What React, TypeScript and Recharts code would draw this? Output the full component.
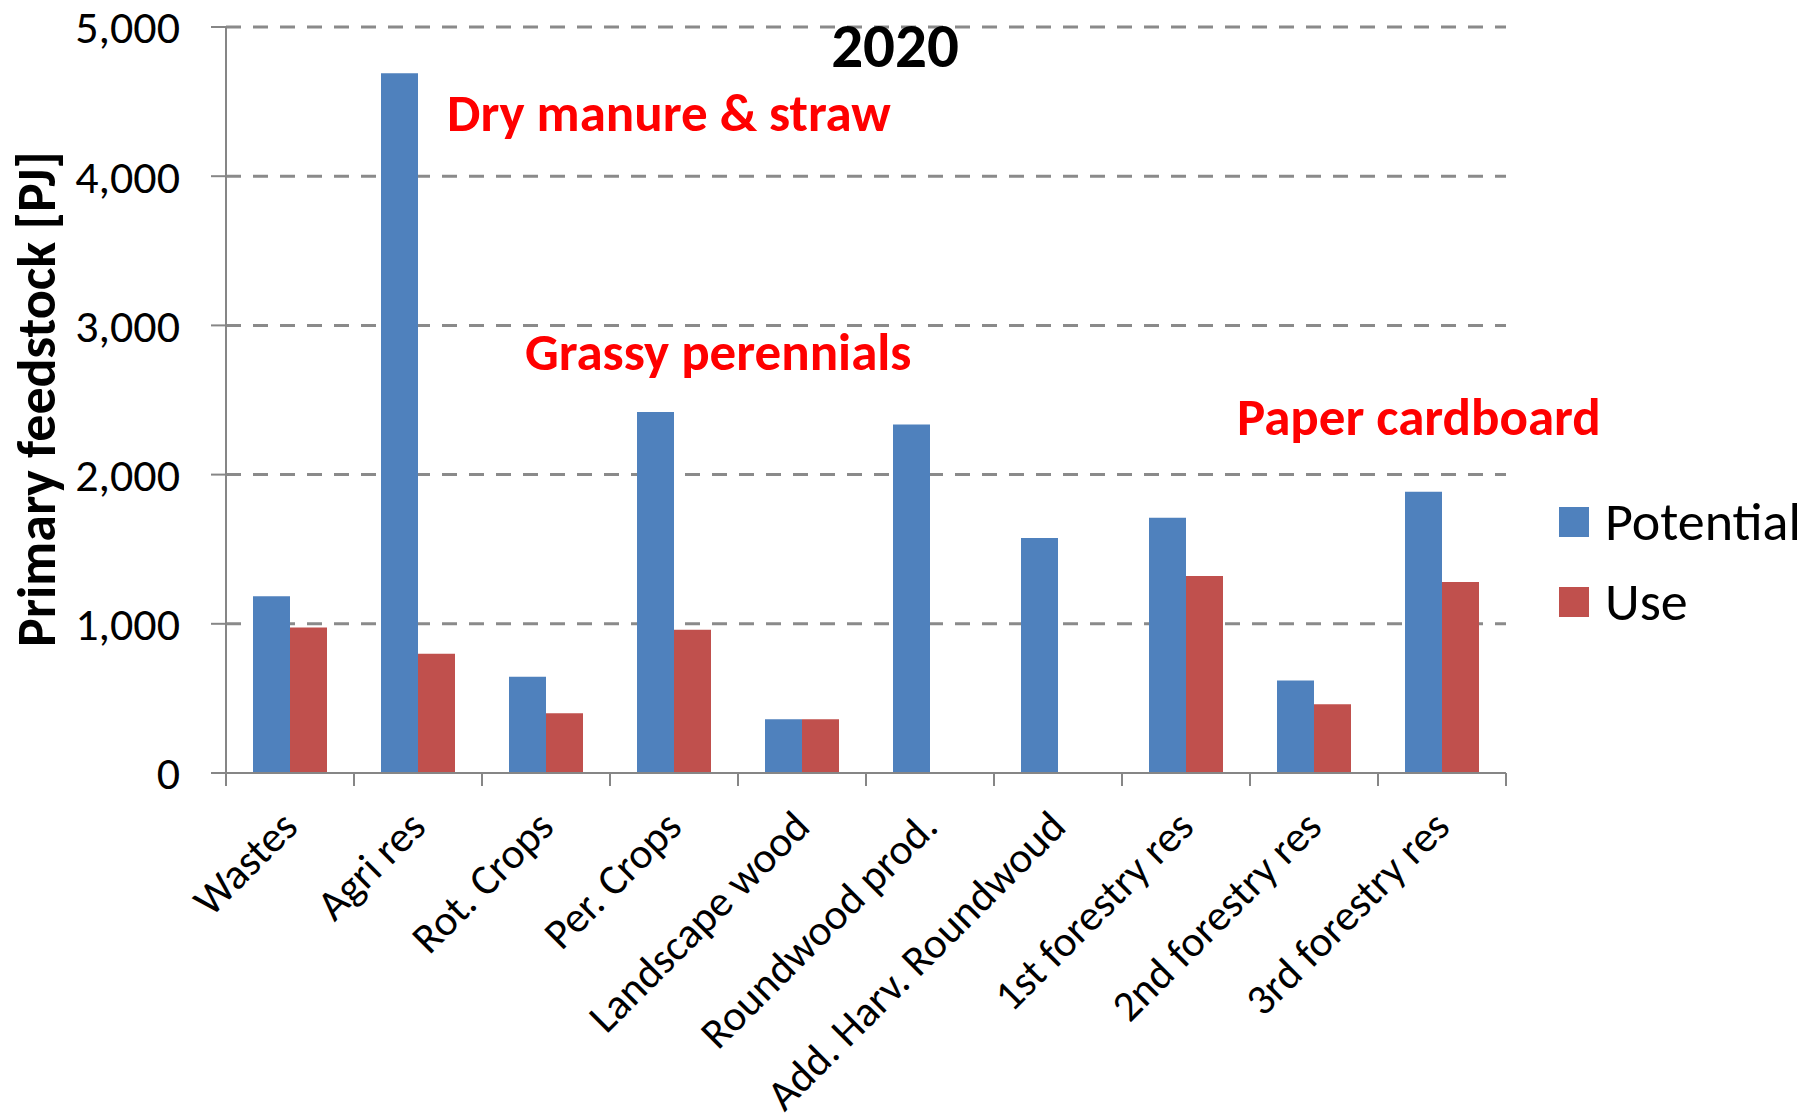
import React from 'react';
import { BarChart, Bar, XAxis, YAxis, CartesianGrid } from 'recharts';

// values (PJ)
const categories = [
  'Wastes', 'Agri res', 'Rot. Crops', 'Per. Crops', 'Landscape wood',
  'Roundwood prod.', 'Add. Harv. Roundwoud', '1st forestry res', '2nd forestry res', '3rd forestry res',
];
const potential = [1185, 4690, 645, 2420, 360, 2335, 1575, 1710, 620, 1885];
const use = [975, 800, 400, 960, 360, 0, 0, 1320, 460, 1280];
const yTicks = [0, 1000, 2000, 3000, 4000, 5000];
const edgeTicks = [0, 1, 2, 3, 4, 5, 6, 7, 8, 9, 10];
const series = [
  { key: 'potential', label: 'Potential', color: '#4F81BD' },
  { key: 'use', label: 'Use', color: '#C0504D' },
];

// slot = middle of each category on a 0..10 scale, used by the boundary-tick axis
const data = categories.map((name, i) => ({ name, slot: i + 0.5, potential: potential[i], use: use[i] }));

const FONT = 'Carlito, Lato, sans-serif';
const AXIS = '#868686';

const CategoryTick = (props: any) => {
  const { x, y, payload } = props;
  const ax = x + 10;
  const ay = y + 54;
  return (
    <text x={ax} y={ay} textAnchor="end" fontSize={43} fontFamily={FONT} fill="#000"
      transform={`rotate(-45, ${ax}, ${ay})`}>
      {payload.value}
    </text>
  );
};

export default function App() {
  return (
    <div style={{ position: 'relative', width: 1814, height: 1113, background: '#fff' }}>
      <style>{'body{margin:0}'}</style>
      <BarChart width={1814} height={1113} data={data} barGap={0} barCategoryGap={27}
        margin={{ top: 27, right: 308, left: 76, bottom: 40 }}>
        <CartesianGrid xAxisId="b" vertical={false} horizontalValues={[1000, 2000, 3000, 4000, 5000]}
          stroke="#8a8a8a" strokeWidth={3} strokeDasharray="15 12" />
        <XAxis xAxisId="b" dataKey="name" type="category" interval={0} height={298}
          axisLine={false} tickLine={false} tickSize={0} tickMargin={0} tick={<CategoryTick />} />
        <XAxis xAxisId="a" dataKey="slot" type="number" domain={[0, 10]} ticks={edgeTicks} interval={0}
          tick={() => <g />} height={2} tickSize={13} axisLine={{ stroke: AXIS, strokeWidth: 2 }}
          tickLine={{ stroke: AXIS, strokeWidth: 2 }} />
        <YAxis domain={[0, 5000]} ticks={yTicks} width={150} tickSize={15} tickMargin={31}
          interval={0} axisLine={{ stroke: AXIS, strokeWidth: 2 }} tickLine={{ stroke: AXIS, strokeWidth: 2 }}
          tick={{ fill: '#000', fontSize: 46, fontFamily: FONT }}
          tickFormatter={(v: number) => v.toLocaleString('en-US')} />
        {series.map((s) => (
          <Bar key={s.key} xAxisId="b" dataKey={s.key} name={s.label} fill={s.color} isAnimationActive={false} />
        ))}
      </BarChart>
      {/* legend */}
      <div style={{ position: 'absolute', left: 1559, top: 482, fontFamily: FONT, fontSize: 54, color: '#000' }}>
        {series.map((s) => (
          <div key={s.key} style={{ display: 'flex', alignItems: 'center', height: 80 }}>
            <span style={{ width: 30, height: 30, background: s.color, marginRight: 16, display: 'inline-block' }} />
            <span>{s.label}</span>
          </div>
        ))}
      </div>
      <svg width={1814} height={1113} style={{ position: 'absolute', left: 0, top: 0, pointerEvents: 'none' }}>
        <text x={895} y={67} textAnchor="middle" fontFamily={FONT} fontWeight="bold" fontSize={63} fill="#000">2020</text>
        <text x={447} y={131} fontFamily={FONT} fontWeight="bold" fontSize={53} fill="#ff0000">Dry manure &amp; straw</text>
        <text x={525} y={370} fontFamily={FONT} fontWeight="bold" fontSize={53} fill="#ff0000">Grassy perennials</text>
        <text x={1237} y={435} fontFamily={FONT} fontWeight="bold" fontSize={53} fill="#ff0000">Paper cardboard</text>
        <text x={37} y={399} textAnchor="middle" dominantBaseline="central" fontFamily={FONT} fontWeight="bold"
          fontSize={54} fill="#000" transform="rotate(-90, 37, 399)">Primary feedstock [PJ]</text>
      </svg>
    </div>
  );
}
